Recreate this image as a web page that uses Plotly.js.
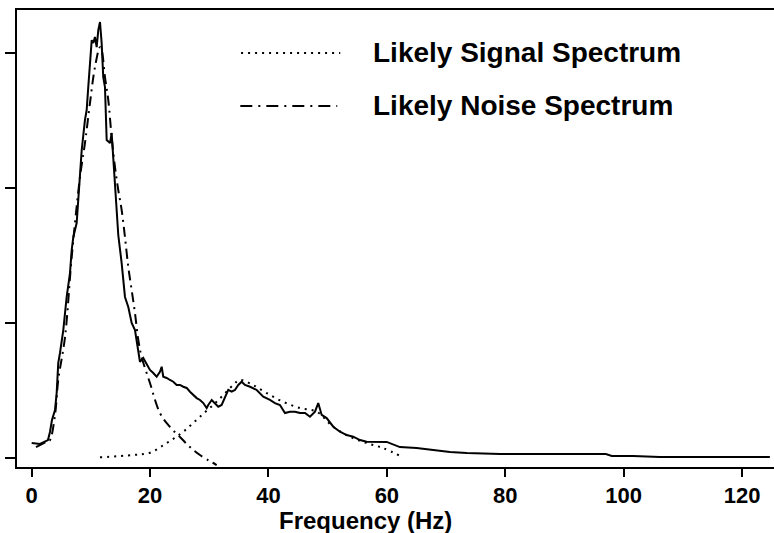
<!DOCTYPE html>
<html>
<head>
<meta charset="utf-8">
<script src="https://cdn.plot.ly/plotly-3.0.1.min.js"></script>
<style>html,body{margin:0;padding:0;background:#fff;}#chart{width:774px;height:533px;}</style>
</head>
<body>
<div id="chart"></div>
<script>
// Measured spectrum (solid)
const measuredFreq = [0.0,1.4,2.75,3.09,3.43,3.94,4.22,4.49,4.78,5.34,5.91,6.47,6.76,7.03,7.6,8.16,8.45,9.0,9.29,9.56,9.85,10.14,10.41,10.69,10.98,11.25,11.54,11.82,12.09,12.38,12.67,13.23,13.51,13.78,14.07,14.36,14.63,15.2,15.76,16.32,16.89,17.45,
  18.01,18.29,18.85,19.43,19.98,20.54,21.11,21.67,21.96,22.23,22.8,23.36,23.92,24.49,25.05,25.61,26.18,26.74,27.3,27.87,28.43,28.99,29.56,29.83,30.41,30.96,31.52,32.09,32.65,33.21,33.78,34.34,34.9,35.47,36.03,36.88,38.01,39.12,40.25,41.1,41.94,42.79,43.63,44.48,45.32,46.17,47.01,47.86,48.41,48.99,49.83,50.95,52.08,53.21,54.32,55.46,56.59,
  58.83,59.97,62.2,65.03,67.84,70.66,73.48,79.14,97.0,98.0,101.6,106.1,124.7];
const measuredPower = [0.111,0.104,0.133,0.193,0.281,0.356,0.481,0.704,0.778,0.948,1.193,1.37,1.541,1.637,1.741,2.156,2.281,2.504,2.578,2.748,2.926,3.096,3.074,3.119,3.044,3.17,3.23,3.074,2.822,2.748,2.356,2.333,2.407,2.207,2.037,1.837,1.652,1.444,1.193,1.119,1.0,0.948,
  0.787,0.713,0.741,0.689,0.652,0.63,0.602,0.639,0.676,0.602,0.593,0.578,0.565,0.541,0.541,0.528,0.519,0.491,0.467,0.444,0.43,0.407,0.37,0.393,0.43,0.407,0.38,0.393,0.444,0.504,0.491,0.504,0.541,0.565,0.541,0.528,0.504,0.454,0.43,0.407,0.393,0.333,0.343,0.343,0.333,0.333,0.306,0.343,0.407,0.319,0.296,0.232,0.195,0.17,0.158,0.133,0.121,
  0.119,0.119,0.081,0.074,0.059,0.044,0.037,0.03,0.03,0.015,0.015,0.007,0.007];

// Likely signal spectrum (dotted)
const signalFreq = [11.54,17.11,19.98,22.8,25.61,28.43,31.25,34.05,35.19,37.38,39.7,42.45,45.32,48.14,50.9,53.77,56.59,59.34,62.5];
const signalPower = [0.005,0.022,0.039,0.111,0.195,0.306,0.417,0.541,0.578,0.541,0.481,0.417,0.37,0.343,0.232,0.158,0.111,0.074,0.01];

// Likely noise spectrum (dash-dot)
const noiseFreq = [0.73,2.75,3.09,3.94,4.49,5.63,6.76,8.16,9.0,9.85,10.69,11.54,11.82,12.38,12.94,13.51,14.07,14.63,15.2,15.76,16.32,16.89,17.45,18.01,18.58,19.98,21.67,23.36,25.05,26.74,28.43,31.25];
const noisePower = [0.081,0.126,0.133,0.319,0.578,0.896,1.489,2.081,2.333,2.63,2.896,3.044,3.022,2.822,2.652,2.378,2.156,1.985,1.837,1.637,1.415,1.244,1.074,0.874,0.748,0.556,0.333,0.23,0.156,0.081,0.022,-0.052];

const xTickVals = [0,20,40,60,80,100,120];
const xTickText = ['0','20','40','60','80','100','120'];
const yTickVals = [0,1,2,3];
const legendLabels = ['Likely Signal Spectrum','Likely Noise Spectrum'];
const xTitle = 'Frequency (Hz)';

const FONT = '"Liberation Sans", Arial, Helvetica, sans-serif';

const traces = [
  {x: measuredFreq, y: measuredPower, type:'scatter', mode:'lines', name:'Measured',
   line:{color:'#000', width:2}, showlegend:false, hoverinfo:'skip'},
  {x: signalFreq, y: signalPower, type:'scatter', mode:'lines', name:legendLabels[0],
   line:{color:'#000', width:2, dash:'2px,5px', shape:'spline'}, showlegend:false},
  {x: noiseFreq, y: noisePower, type:'scatter', mode:'lines', name:legendLabels[1],
   line:{color:'#000', width:2, dash:'10px,5px,2px,5px', shape:'spline'}, showlegend:false}
];

const layout = {
  width:774, height:533,
  margin:{l:17, r:0, t:10, b:66},
  paper_bgcolor:'#fff', plot_bgcolor:'#fff',
  font:{family:FONT, color:'#000'},
  showlegend:false,
  xaxis:{
    range:[-2.48,125.4], showgrid:false, zeroline:false,
    showline:true, linecolor:'#000', linewidth:2, mirror:true,
    ticks:'outside', ticklen:8, tickwidth:2, tickcolor:'#000',
    tickvals:xTickVals, ticktext:xTickText,
    tickfont:{family:FONT, size:22, weight:'bold', color:'#000'}
  },
  yaxis:{
    range:[-0.0667,3.319], showgrid:false, zeroline:false,
    showline:true, linecolor:'#000', linewidth:2,
    ticks:'outside', ticklen:10, tickwidth:2, tickcolor:'#000',
    tickvals:yTickVals, showticklabels:false
  },
  shapes:[
    {type:'line', xref:'paper', yref:'paper', x0:0.296, x1:0.427, y0:0.906, y1:0.906,
     line:{color:'#000', width:2, dash:'2px,5px'}},
    {type:'line', xref:'paper', yref:'paper', x0:0.295, x1:0.423, y0:0.790, y1:0.790,
     line:{color:'#000', width:2, dash:'12px,6px,2px,6px'}}
  ],
  annotations:[
    {xref:'paper', yref:'paper', x:0.468, y:0.906, xanchor:'left', yanchor:'middle', showarrow:false,
     text:legendLabels[0], font:{family:FONT, size:28, weight:'bold', color:'#000'}},
    {xref:'paper', yref:'paper', x:0.468, y:0.790, xanchor:'left', yanchor:'middle', showarrow:false,
     text:legendLabels[1], font:{family:FONT, size:28, weight:'bold', color:'#000'}},
    {xref:'paper', yref:'paper', x:0.46, y:-0.116, xanchor:'center', yanchor:'middle', showarrow:false,
     text:xTitle, font:{family:FONT, size:24, weight:'bold', color:'#000'}}
  ]
};

Plotly.newPlot('chart', traces, layout, {displayModeBar:false, staticPlot:true});
</script>
</body>
</html>
